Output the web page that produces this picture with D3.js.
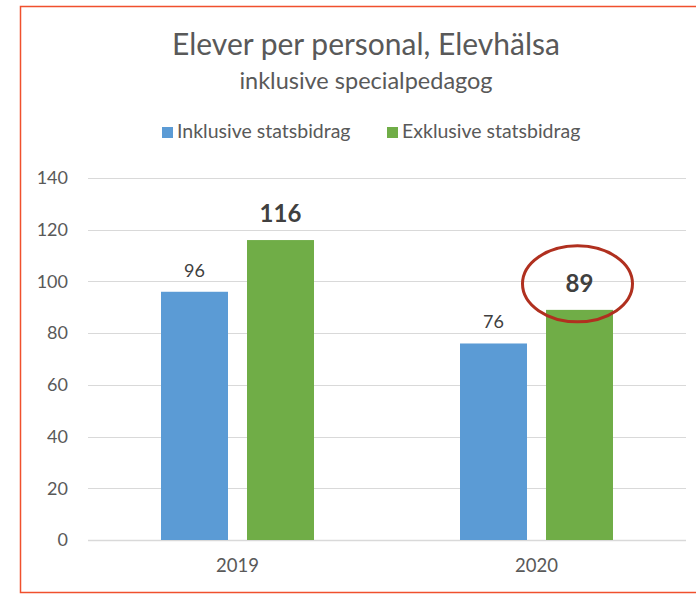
<!DOCTYPE html>
<html>
<head>
<meta charset="utf-8">
<script src="https://cdn.jsdelivr.net/npm/d3@7"></script>
<style>
  body { margin: 0; background: #fff; }
  text { font-family: Lato, "Open Sans", sans-serif; }
</style>
</head>
<body>
<div id="chart"></div>
<script>
var years = ["2019", "2020"];
var seriesNames = ["Inklusive statsbidrag", "Exklusive statsbidrag"];
var inklusive = [96, 76];
var exklusive = [116, 89];
var yTicks = [0, 20, 40, 60, 80, 100, 120, 140];

var colors = ["#5b9bd5", "#70ad47"];
var margin = { top: 178, left: 88 },
    width = 598,
    height = 362;

var svg = d3.select("#chart").append("svg")
    .attr("width", 696)
    .attr("height", 595);

// outer frame
svg.append("rect")
    .attr("x", 20.5).attr("y", 6.5)
    .attr("width", 720).attr("height", 586)
    .attr("fill", "none")
    .attr("stroke", "#f0502d")
    .attr("stroke-width", 1.5);

var g = svg.append("g")
    .attr("transform", "translate(" + margin.left + "," + margin.top + ")");

var x = d3.scaleBand().domain(years).range([0, width]);
var x1 = d3.scaleBand().domain([0, 1]).range([0, x.bandwidth()])
    .paddingInner(0.221).paddingOuter(0.849);
var y = d3.scaleLinear().domain([0, 140]).range([height, 0]);

// gridlines
g.selectAll(".grid").data(yTicks).enter().append("line")
    .attr("x1", 0).attr("x2", width)
    .attr("y1", function(d) { return Math.round(y(d)) + 0.5; })
    .attr("y2", function(d) { return Math.round(y(d)) + 0.5; })
    .attr("stroke", "#d9d9d9")
    .attr("stroke-width", function(d) { return d === 0 ? 1.5 : 1; });

var yAxis = g.append("g")
    .attr("transform", "translate(-20,0)")
    .call(d3.axisLeft(y).tickValues(yTicks).tickSize(0).tickPadding(0));
yAxis.select(".domain").remove();
yAxis.selectAll("text").attr("font-size", "18px").attr("fill", "#595959")
    .attr("font-family", "Lato, sans-serif");

var xAxis = g.append("g")
    .attr("transform", "translate(0," + height + ")")
    .call(d3.axisBottom(x).tickSize(0).tickPadding(19));
xAxis.select(".domain").remove();
xAxis.selectAll("text").attr("font-size", "18.5px").attr("fill", "#595959")
    .attr("font-family", "Lato, sans-serif");

var rows = years.map(function(yr, i) {
  return { year: yr, values: [inklusive[i], exklusive[i]] };
});

var groups = g.selectAll(".yr").data(rows).enter().append("g")
    .attr("transform", function(d) { return "translate(" + x(d.year) + ",0)"; });

groups.selectAll("rect")
    .data(function(d) { return d.values.map(function(v, k) { return { k: k, v: v }; }); })
    .enter().append("rect")
    .attr("x", function(d) { return x1(d.k); })
    .attr("width", x1.bandwidth())
    .attr("y", function(d) { return y(d.v); })
    .attr("height", function(d) { return height - y(d.v); })
    .attr("fill", function(d) { return colors[d.k]; });

groups.selectAll(".lbl")
    .data(function(d) { return d.values.map(function(v, k) { return { k: k, v: v }; }); })
    .enter().append("text")
    .text(function(d) { return d.v; })
    .attr("x", function(d) { return x1(d.k) + x1.bandwidth() / 2; })
    .attr("y", function(d) { return y(d.v) - (d.k === 1 ? 18 : 15); })
    .attr("text-anchor", "middle")
    .attr("font-size", function(d) { return d.k === 1 ? "24px" : "18px"; })
    .attr("font-weight", function(d) { return d.k === 1 ? "bold" : "normal"; })
    .attr("fill", "#404040");

// highlight ellipse around 2020 exklusive label
g.append("ellipse")
    .attr("cx", x("2020") + x1(1) + x1.bandwidth() / 2 - 2)
    .attr("cy", y(exklusive[1]) - 26)
    .attr("rx", 55).attr("ry", 38)
    .attr("fill", "none")
    .attr("stroke", "#b0301f")
    .attr("stroke-width", 3);

// titles
svg.append("text")
    .text("Elever per personal, Elevhälsa")
    .attr("x", 366).attr("y", 55)
    .attr("text-anchor", "middle")
    .attr("font-size", "30px")
    .attr("fill", "#595959");

svg.append("text")
    .text("inklusive specialpedagog")
    .attr("x", 366).attr("y", 89)
    .attr("text-anchor", "middle")
    .attr("font-size", "23.5px")
    .attr("fill", "#595959");

// legend
var legendX = [162, 387];
var legend = svg.selectAll(".leg").data(seriesNames).enter().append("g")
    .attr("transform", function(d, i) { return "translate(" + legendX[i] + ",127)"; });
legend.append("rect")
    .attr("width", 11).attr("height", 11)
    .attr("fill", function(d, i) { return colors[i]; });
legend.append("text")
    .text(function(d) { return d; })
    .attr("x", 15).attr("y", 11)
    .attr("font-size", "19.5px")
    .attr("fill", "#595959");
</script>
</body>
</html>
